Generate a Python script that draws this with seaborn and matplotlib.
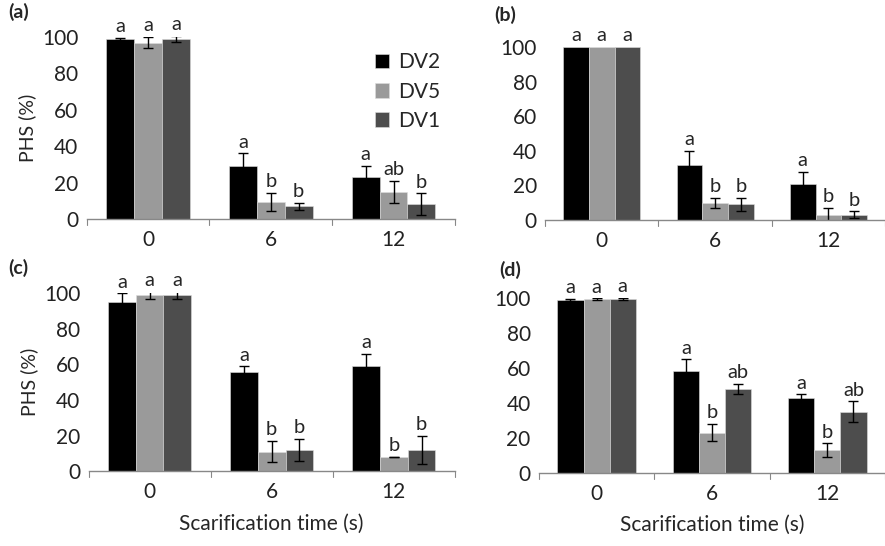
import pandas as pd
import matplotlib.pyplot as plt
import seaborn as sns

sns.set_style('white')
plt.rcParams['font.family'] = ['Lato', 'DejaVu Sans']

times = ['0', '6', '12']
cultivars = ['DV2', 'DV5', 'DV1']
colors = ['#000000', '#9a9a9a', '#4d4d4d']

# mean PHS (%) per panel, one list per cultivar (values at 0, 6, 12 s)
a_mean = {'DV2': [99, 29, 23], 'DV5': [97, 9.5, 15], 'DV1': [99, 7, 8]}
a_err = {'DV2': [0.5, 7, 6], 'DV5': [3, 5, 6], 'DV1': [1.5, 2, 6]}
a_sig = {'DV2': ['a', 'a', 'a'], 'DV5': ['a', 'b', 'ab'], 'DV1': ['a', 'b', 'b']}

b_mean = {'DV2': [100, 32, 21], 'DV5': [100, 10, 3], 'DV1': [100, 9, 3]}
b_err = {'DV2': [0, 8, 7], 'DV5': [0, 3, 4], 'DV1': [0, 4, 2]}
b_sig = {'DV2': ['a', 'a', 'a'], 'DV5': ['a', 'b', 'b'], 'DV1': ['a', 'b', 'b']}

c_mean = {'DV2': [95, 56, 59], 'DV5': [99, 11, 8], 'DV1': [99, 12, 12]}
c_err = {'DV2': [5, 3, 7], 'DV5': [2, 6, 0.2], 'DV1': [2, 6, 8]}
c_sig = {'DV2': ['a', 'a', 'a'], 'DV5': ['a', 'b', 'b'], 'DV1': ['a', 'b', 'b']}

d_mean = {'DV2': [99, 58, 43], 'DV5': [99.5, 23, 13], 'DV1': [99.5, 48, 35]}
d_err = {'DV2': [0.5, 7, 2], 'DV5': [0.3, 5, 4], 'DV1': [0.5, 3, 6]}
d_sig = {'DV2': ['a', 'a', 'a'], 'DV5': ['a', 'b', 'b'], 'DV1': ['a', 'ab', 'ab']}

panels = [
    ('(a)', a_mean, a_err, a_sig, [0.098, 0.599, 0.416, 0.333], (8, 12)),
    ('(b)', b_mean, b_err, b_sig, [0.616, 0.597, 0.384, 0.317], (494, 15)),
    ('(c)', c_mean, c_err, c_sig, [0.100, 0.137, 0.414, 0.326], (8, 268)),
    ('(d)', d_mean, d_err, d_sig, [0.609, 0.134, 0.391, 0.320], (499, 270)),
]

fig = plt.figure(figsize=(8.85, 5.46), dpi=100)

for i, (tag, mean, err, sig, pos, lab_xy) in enumerate(panels):
    ax = fig.add_axes(pos)
    rows = []
    for cv in cultivars:
        for t, m in zip(times, mean[cv]):
            rows.append({'time': t, 'cultivar': cv, 'PHS': m})
    df = pd.DataFrame(rows)
    sns.barplot(data=df, x='time', y='PHS', hue='cultivar', order=times,
                hue_order=cultivars, palette=colors, width=0.68, errorbar=None,
                edgecolor='#dddddd', linewidth=0.4, ax=ax)

    for cont, cv in zip(ax.containers, cultivars):
        for patch, m, e, s in zip(cont.patches, mean[cv], err[cv], sig[cv]):
            xc = patch.get_x() + patch.get_width() / 2
            if e > 0:
                ax.errorbar(xc, m, yerr=e, color='black', capsize=3.5,
                            elinewidth=1, capthick=1)
            ax.text(xc, m + e + 1.5, s, ha='center', va='bottom', fontsize=14.5)

    ax.set_xlim(-0.5, 2.5)
    ax.set_ylim(0, 100)
    ax.set_yticks([0, 20, 40, 60, 80, 100])
    ax.tick_params(axis='both', labelsize=15, colors='#222222')
    ax.tick_params(axis='y', length=5, width=0.8, color='#888888', pad=1)
    ax.tick_params(axis='x', length=0, pad=8)
    for b in [-0.5, 0.5, 1.5, 2.5]:
        ax.plot([b, b], [0, -3.5], color='#888888', lw=0.8, clip_on=False)
    sns.despine(ax=ax, left=True)
    ax.spines['bottom'].set_color('#888888')
    ax.spines['bottom'].set_linewidth(1)

    ax.set_ylabel('PHS (%)' if i in (0, 2) else '', fontsize=14, labelpad=4)
    ax.set_xlabel('Scarification time (s)' if i in (2, 3) else '', fontsize=15,
                  labelpad=8)

    if i == 0:
        ax.legend(loc='upper right', bbox_to_anchor=(1.01, 1.02), frameon=False,
                  fontsize=15, handlelength=0.7, handleheight=0.7,
                  handletextpad=0.4, labelspacing=0.45)
    else:
        ax.get_legend().remove()

    fig.text(lab_xy[0] / 885, 1 - lab_xy[1] / 546, tag, fontsize=14,
             fontweight='bold', va='center', ha='left')

plt.savefig('out.png', dpi=100)
plt.close()
